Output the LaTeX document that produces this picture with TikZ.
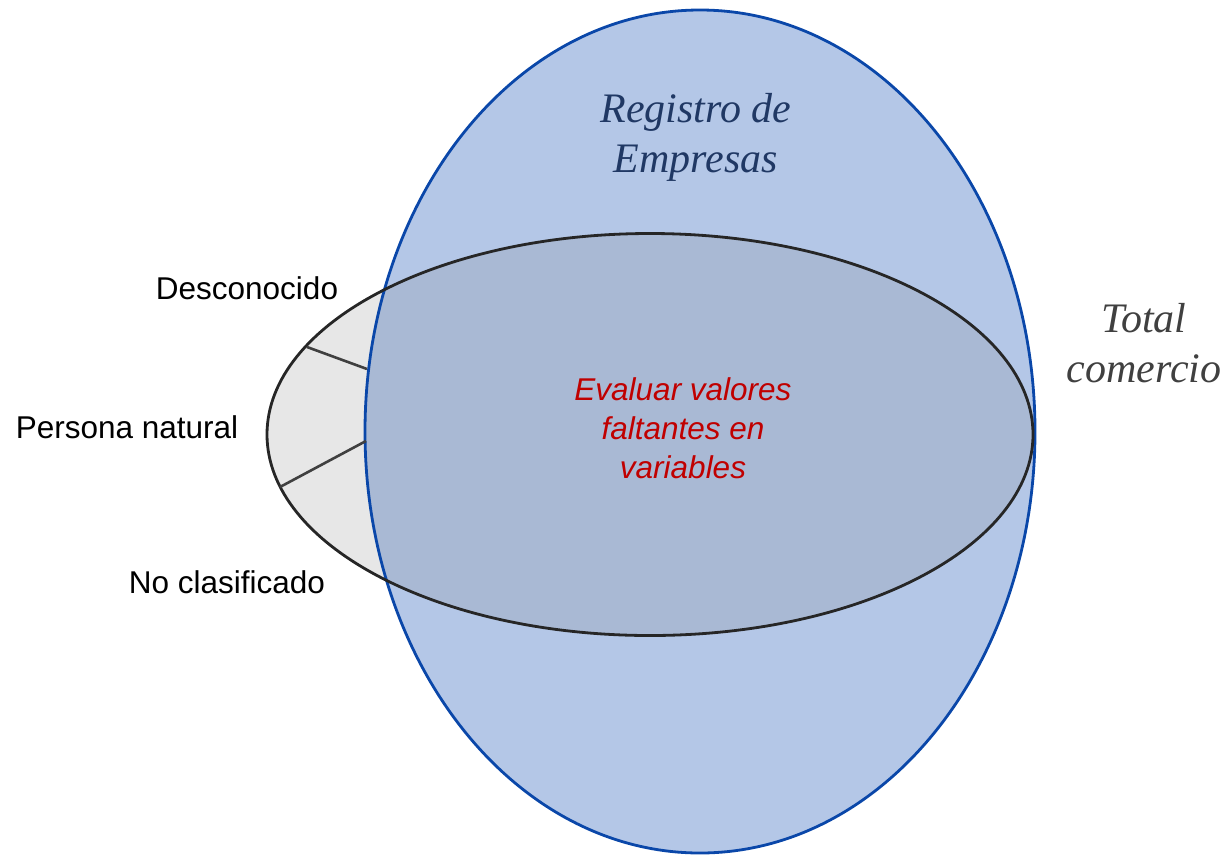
\documentclass[tikz,border=0pt]{standalone}
\usepackage{fontspec}
\setmainfont{Liberation Sans}
\newfontfamily\serifit{Liberation Serif}
\definecolor{bluefill}{HTML}{B4C7E7}
\definecolor{blueline}{HTML}{0A47A9}
\definecolor{overlap}{HTML}{A9B9D4}
\definecolor{grayfill}{HTML}{E7E7E7}
\definecolor{grayline}{HTML}{262626}
\definecolor{navytext}{HTML}{203864}
\definecolor{darkgraytext}{HTML}{404040}
\definecolor{redtext}{HTML}{C00000}
\tikzset{
  sanslabel/.style={font=\fontsize{31.5}{39}\selectfont, text=black, inner sep=0pt},
  redlabel/.style={font=\fontsize{31.5}{39}\selectfont\itshape, text=redtext, align=center, inner sep=0pt},
  seriflabel/.style={font=\serifit\fontsize{42}{50}\selectfont\itshape, align=center, inner sep=0pt},
  divider/.style={draw=darkgraytext, line width=2.6pt},
}
\begin{document}
\begin{tikzpicture}[x=1pt,y=-1pt]
\useasboundingbox (0,0) rectangle (1225,855);
% gray ellipse fill
\fill[grayfill] (650,434.5) ellipse [x radius=383, y radius=201];
% blue ellipse fill
\fill[bluefill] (700,431.5) ellipse [x radius=335, y radius=421.5];
% overlap
\begin{scope}
  \clip (700,431.5) ellipse [x radius=335, y radius=421.5];
  \fill[overlap] (650,434.5) ellipse [x radius=383, y radius=201];
\end{scope}
% borders
\draw[blueline, line width=2.8pt] (700,431.5) ellipse [x radius=335, y radius=421.5];
\draw[grayline, line width=2.8pt] (650,434.5) ellipse [x radius=383, y radius=201];
% dividers
\coordinate (d1a) at (307,347);
\coordinate (d1b) at (367,369);
\coordinate (d2a) at (280,487);
\coordinate (d2b) at (366,441);
\draw[divider] (d1a) -- (d1b);
\draw[divider] (d2a) -- (d2b);
% texts
\node[seriflabel, text=navytext] (reg) at (696,137) {Registro de\\Empresas};
\node[seriflabel, text=darkgraytext] (tot) at (1144,343) {Total\\comercio};
\node[redlabel] (eval) at (683,428) {Evaluar valores\\faltantes en\\variables};
\node[sanslabel] (desc) at (247,288) {Desconocido};
\node[sanslabel] (pers) at (127,427) {Persona natural};
\node[sanslabel] (nocl) at (227,582) {No clasificado};
\end{tikzpicture}
\end{document}
